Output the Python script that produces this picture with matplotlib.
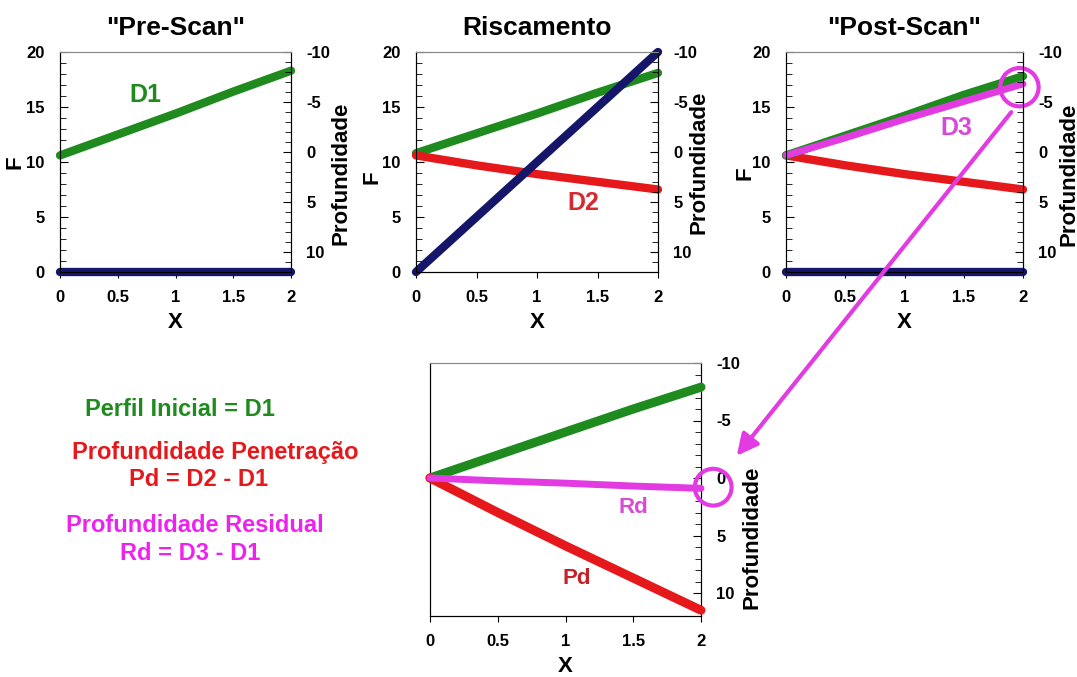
import numpy as np
import matplotlib
matplotlib.use('Agg')
import matplotlib.pyplot as plt
from matplotlib.ticker import MultipleLocator

plt.rcParams['font.family'] = ['Liberation Sans', 'DejaVu Sans']
plt.rcParams['font.weight'] = 'bold'
plt.rcParams['axes.titleweight'] = 'bold'
plt.rcParams['axes.labelweight'] = 'bold'
plt.rcParams['axes.unicode_minus'] = False

# dados
x = [0, 0.5, 1, 1.5, 2]
# "Pre-Scan"
pre_d1 = [10.6, 12.5, 14.4, 16.4, 18.3]
pre_f = [0, 0, 0, 0, 0]
# Riscamento
ris_d1 = [10.8, 12.6, 14.4, 16.3, 18.1]
ris_d2 = [10.6, 9.7, 8.9, 8.2, 7.5]
ris_f = [0, 5, 10, 15, 20]
# "Post-Scan"
pos_d1 = [10.6, 12.4, 14.2, 16.1, 17.8]
pos_d3 = [10.6, 12.2, 13.9, 15.5, 17.1]
pos_d2 = [10.6, 9.7, 8.9, 8.2, 7.5]
pos_f = [0, 0, 0, 0, 0]
# profundidades (painel de baixo)
perfil = [0, -2.0, -4.0, -6.0, -7.9]
rd = [0, 0.25, 0.45, 0.7, 0.9]
pd_ = [0, 3.0, 5.9, 8.7, 11.5]

titulos = ['"Pre-Scan"', 'Riscamento', '"Post-Scan"']
legenda = ['Perfil Inicial = D1', 'Profundidade Penetração', 'Pd = D2 - D1',
           'Profundidade Residual', 'Rd = D3 - D1']

VERDE = '#1f8b1f'
VERMELHO = '#e5181c'
AZUL = '#15156a'
MAGENTA = '#e23be2'

W, H = 1077, 677
fig = plt.figure(figsize=(W / 100, H / 100), dpi=100)


def box(l, t, r, b):
    return [l / W, 1 - b / H, (r - l) / W, (b - t) / H]


def estilo(ax, left_ticks=True, f_pos=(-0.15, 0.5), p_pos=(1.15, 0.45)):
    ax.set_xlim(0, 2)
    ax.set_xticks([0, 0.5, 1, 1.5, 2], ['0', '0.5', '1', '1.5', '2'])
    ax.tick_params(axis='x', direction='out', length=4, labelsize=12, pad=9)
    ax.set_xlabel('X', fontsize=16, labelpad=5)
    ax.spines['top'].set_color('#888888')
    if left_ticks:
        ax.set_ylim(0, 20)
        ax.yaxis.set_major_locator(MultipleLocator(5))
        ax.yaxis.set_minor_locator(MultipleLocator(1))
        ax.tick_params(axis='y', which='major', direction='in', length=6, labelsize=12, pad=11)
        ax.tick_params(axis='y', which='minor', direction='in', length=4)
        ax.set_ylabel('F', fontsize=16)
        ax.yaxis.set_label_coords(*f_pos)
    else:
        ax.set_yticks([])
    axr = ax.twinx()
    axr.set_ylim(12, -10)
    axr.yaxis.set_major_locator(MultipleLocator(5))
    axr.yaxis.set_minor_locator(MultipleLocator(1))
    axr.tick_params(axis='y', which='major', direction='in', length=6, labelsize=12, pad=11)
    axr.tick_params(axis='y', which='minor', direction='in', length=4)
    axr.set_ylabel('Profundidade', fontsize=16)
    axr.yaxis.set_label_coords(*p_pos)
    axr.spines['top'].set_color('#888888')
    return axr


kw = dict(lw=6, solid_capstyle='round', clip_on=False)

# painel 1
ax1 = fig.add_axes(box(60, 52, 291, 272))
estilo(ax1, f_pos=(-0.15, 0.5), p_pos=(1.173, 0.45))
ax1.plot(x, pre_f, color=AZUL, zorder=3, **kw)
ax1.plot(x, pre_d1, color=VERDE, zorder=3, **kw)
ax1.text(0.74, 16.1, 'D1', color=VERDE, fontsize=18, ha='center', va='center')
ax1.set_title(titulos[0], fontsize=19, pad=12)

# painel 2
ax2 = fig.add_axes(box(416, 52, 658, 272))
estilo(ax2, f_pos=(-0.14, 0.43), p_pos=(1.124, 0.5))
ax2.plot(x, ris_d1, color=VERDE, zorder=3, **kw)
ax2.plot(x, ris_d2, color=VERMELHO, zorder=3, **kw)
ax2.plot(x, ris_f, color=AZUL, zorder=3, **kw)
ax2.text(1.38, 6.3, 'D2', color='#d42a30', fontsize=18, ha='center', va='center')
ax2.set_title(titulos[1], fontsize=19, pad=12)

# painel 3
ax3 = fig.add_axes(box(786, 52, 1023, 272))
estilo(ax3, f_pos=(-0.13, 0.45), p_pos=(1.148, 0.445))
ax3.plot(x, pos_f, color=AZUL, zorder=3, **kw)
ax3.plot(x, pos_d2, color=VERMELHO, zorder=3, **kw)
ax3.plot(x, pos_d1, color=VERDE, zorder=3, **kw)
ax3.plot(x, pos_d3, color=MAGENTA, zorder=4, lw=5, solid_capstyle='round', clip_on=False)
ax3.text(1.44, 13.1, 'D3', color='#d949d9', fontsize=18, ha='center', va='center')
ax3.scatter([1.97], [16.8], s=760, facecolors='none', edgecolors=MAGENTA,
            linewidths=3, zorder=6, clip_on=False)
ax3.set_title(titulos[2], fontsize=19, pad=12)

# painel de baixo
ax4 = fig.add_axes(box(430, 363, 701, 616))
ax4r = estilo(ax4, left_ticks=False, p_pos=(1.148, 0.31))
ax4r.plot(x, perfil, color=VERDE, lw=6.5, solid_capstyle='round', clip_on=False, zorder=3)
ax4r.plot(x, pd_, color=VERMELHO, lw=6.5, solid_capstyle='round', clip_on=False, zorder=3)
ax4r.plot(x, rd, color=MAGENTA, lw=5, solid_capstyle='round', clip_on=False, zorder=4)
ax4r.text(1.5, 2.6, 'Rd', color='#d94ad9', fontsize=16, ha='center', va='center')
ax4r.text(1.08, 8.7, 'Pd', color='#c42228', fontsize=16, ha='center', va='center')
ax4r.scatter([2.09], [0.8], s=700, facecolors='none', edgecolors=MAGENTA,
             linewidths=3, zorder=6, clip_on=False)

# seta magenta
fig.add_artist(matplotlib.patches.FancyArrowPatch(
    (1013 / W, 1 - 110 / H), (735 / W, 1 - 458 / H), transform=fig.transFigure,
    arrowstyle='-|>', mutation_scale=32, color=MAGENTA, lw=3))

# textos da legenda
cores = [VERDE, VERMELHO, VERMELHO, '#ee22ee', '#ee22ee']
pos = [(180, 410), (215, 452), (199, 480), (195, 525), (190, 553)]
for txt, c, (px, py) in zip(legenda, cores, pos):
    fig.text(px / W, 1 - py / H, txt, color=c, fontsize=17, ha='center', va='center')

fig.savefig('out.png', dpi=100)
